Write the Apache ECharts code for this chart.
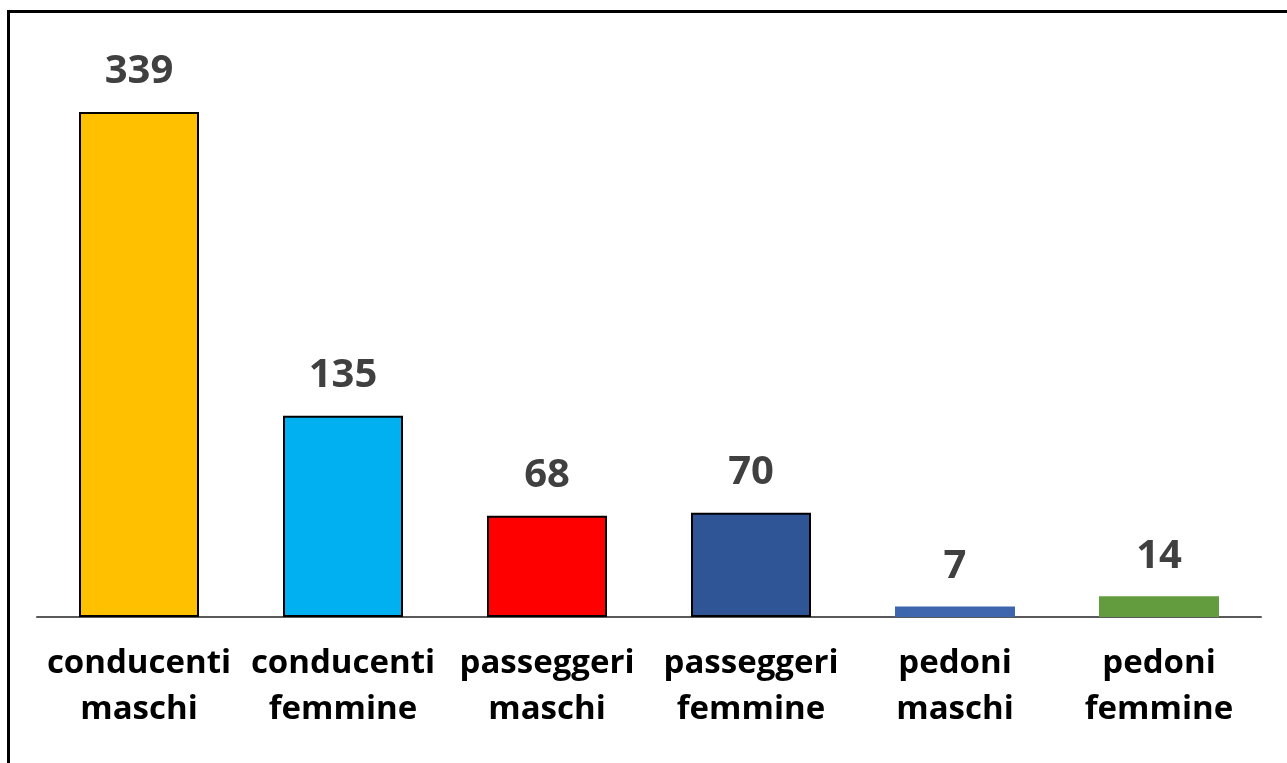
<!DOCTYPE html>
<html>
<head>
<meta charset="utf-8">
<script src="https://cdn.jsdelivr.net/npm/echarts@6/dist/echarts.min.js"></script>
<style>
  html, body { margin: 0; padding: 0; background: #fff; }
  #main { width: 1287px; height: 763px; }
  #frame { position: absolute; left: 7px; top: 10px; right: -10px; bottom: -10px;
           border-left: 3px solid #000; border-top: 3px solid #000; pointer-events: none; }
</style>
</head>
<body>
<div id="main"></div>
<div id="frame"></div>
<script>
// dati
const categorie = ['conducenti\nmaschi', 'conducenti\nfemmine', 'passeggeri\nmaschi',
  'passeggeri\nfemmine', 'pedoni\nmaschi', 'pedoni\nfemmine'];
const valori = [339, 135, 68, 70, 7, 14];
const colori = ['#FFC000', '#00B0F0', '#FF0000', '#2F5597', '#3D66AE', '#639C3E'];
const bordi = [true, true, true, true, false, false];

const chart = echarts.init(document.getElementById('main'));

const option = {
  animation: false,
  grid: { left: 37, right: 26, top: 21, bottom: 146 },
  xAxis: {
    type: 'category',
    data: categorie,
    axisLine: { lineStyle: { color: '#595959', width: 2 } },
    axisTick: { show: false },
    axisLabel: {
      interval: 0,
      margin: 24,
      color: '#000',
      fontFamily: 'Open Sans',
      fontWeight: 'bold',
      fontSize: 33,
      lineHeight: 46
    }
  },
  yAxis: {
    type: 'value',
    min: 0,
    max: 400,
    show: false
  },
  series: [{
    type: 'bar',
    barWidth: 120,
    data: valori.map((v, i) => ({
      value: v,
      itemStyle: {
        color: colori[i],
        borderColor: bordi[i] ? '#000' : colori[i],
        borderWidth: bordi[i] ? 2 : 0
      }
    })),
    label: {
      show: true,
      position: 'top',
      distance: 20,
      color: '#404040',
      fontFamily: 'Open Sans',
      fontWeight: 'bold',
      fontSize: 40
    }
  }]
};
chart.setOption(option);
</script>
</body>
</html>
